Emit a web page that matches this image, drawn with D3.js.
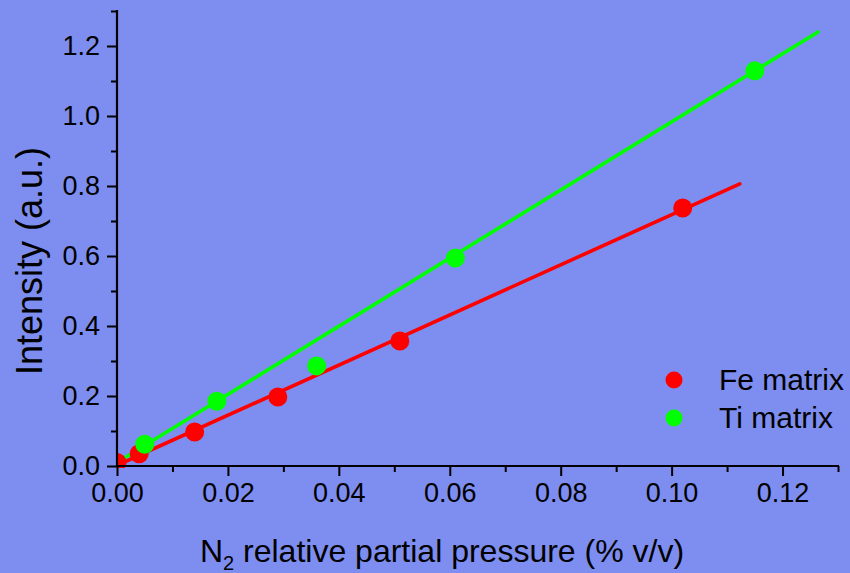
<!DOCTYPE html>
<html><head><meta charset="utf-8">
<script src="https://cdn.jsdelivr.net/npm/d3@7"></script>
<style>
html,body{margin:0;padding:0;background:#7d8ef0;}
svg{display:block;font-family:"Liberation Sans",Arial,sans-serif;}
</style></head>
<body>
<script>
// Data
const feX = [0.0, 0.004, 0.014, 0.029, 0.051, 0.102];
const feY = [0.01, 0.035, 0.097, 0.197, 0.357, 0.737];
const tiX = [0.005, 0.018, 0.036, 0.061, 0.115];
const tiY = [0.062, 0.185, 0.286, 0.594, 1.129];
const feFitX = [0.0, 0.1123];
const feFitY = [0.002, 0.806];
const tiFitX = [0.0, 0.1264];
const tiFitY = [0.01, 1.24];
const xMajorTicks = [0, 0.02, 0.04, 0.06, 0.08, 0.10, 0.12];
const xMinorTicks = [0.01, 0.03, 0.05, 0.07, 0.09, 0.11, 0.13];
const yMajorTicks = [0, 0.2, 0.4, 0.6, 0.8, 1.0, 1.2];
const yMinorTicks = [0.1, 0.3, 0.5, 0.7, 0.9, 1.1, 1.3];
const seriesNames = ["Fe matrix", "Ti matrix"];
const seriesColors = ["#ff0000", "#00ff00"];

const W = 850, H = 573;
const svg = d3.select("body").append("svg").attr("width", W).attr("height", H);
svg.append("rect").attr("width", W).attr("height", H).attr("fill", "#7d8ef0");

const x = d3.scaleLinear().domain([0, 0.13]).range([117, 838]);
const y = d3.scaleLinear().domain([0, 1.3]).range([466, 11]);

svg.append("defs").append("clipPath").attr("id", "clip")
  .append("rect").attr("x", 117).attr("y", 0).attr("width", W - 117).attr("height", 468);

const plot = svg.append("g").attr("clip-path", "url(#clip)");
const line = d3.line().x(d => x(d[0])).y(d => y(d[1]));

const fits = [d3.zip(feFitX, feFitY), d3.zip(tiFitX, tiFitY)];
const pts = [d3.zip(feX, feY), d3.zip(tiX, tiY)];

fits.forEach((f, i) => {
  plot.append("path").datum(f).attr("d", line).attr("fill", "none")
    .attr("stroke", seriesColors[i]).attr("stroke-width", 3.6).attr("stroke-linecap", "round");
});
pts.forEach((p, i) => {
  plot.selectAll(null).data(p).enter().append("circle")
    .attr("cx", d => x(d[0])).attr("cy", d => y(d[1])).attr("r", 9.5)
    .attr("fill", seriesColors[i]);
});

// Axes
const xAxis = svg.append("g").attr("transform", "translate(0,466)")
  .call(d3.axisBottom(x).tickValues(xMajorTicks).tickSize(10).tickSizeOuter(0).tickPadding(7).tickFormat(d3.format(".2f")));
const xMinor = svg.append("g").attr("transform", "translate(0,466)")
  .call(d3.axisBottom(x).tickValues(xMinorTicks).tickSize(6).tickSizeOuter(0).tickFormat(""));
const yAxis = svg.append("g").attr("transform", "translate(117,0)")
  .call(d3.axisLeft(y).tickValues(yMajorTicks).tickSize(10).tickSizeOuter(0).tickPadding(7).tickFormat(d3.format(".1f")));
const yMinor = svg.append("g").attr("transform", "translate(117,0)")
  .call(d3.axisLeft(y).tickValues(yMinorTicks).tickSize(6).tickSizeOuter(0).tickFormat(""));

[xAxis, xMinor, yAxis, yMinor].forEach(g => {
  g.selectAll("path.domain").attr("stroke", "#000").attr("stroke-width", 2.2);
  g.selectAll(".tick line").attr("stroke", "#000").attr("stroke-width", 2);
  g.selectAll("text").attr("fill", "#000").style("font-size", "27px")
    .style("font-family", "Liberation Sans, Arial, sans-serif");
});
xAxis.selectAll("path.domain").attr("d", "M116,0H839");
yAxis.selectAll("path.domain").attr("d", "M0,467V10");
xMinor.selectAll("path.domain").remove();
yMinor.selectAll("path.domain").remove();

// Axis titles
const xt = svg.append("text").attr("x", 442).attr("y", 562).attr("text-anchor", "middle")
  .attr("font-size", 32).attr("fill", "#000");
xt.append("tspan").text("N");
xt.append("tspan").attr("font-size", 20).attr("dy", 8).text("2");
xt.append("tspan").attr("dy", -8).text(" relative partial pressure (% v/v)");

svg.append("text").attr("transform", "translate(42,261) rotate(-90)")
  .attr("text-anchor", "middle").attr("font-size", 36).attr("fill", "#000")
  .text("Intensity (a.u.)");

// Legend
const legY = [380, 418];
seriesNames.forEach((n, i) => {
  svg.append("circle").attr("cx", 674).attr("cy", legY[i]).attr("r", 8.5).attr("fill", seriesColors[i]);
  svg.append("text").attr("x", 719).attr("y", legY[i] + 10).attr("font-size", 30)
    .attr("fill", "#000").text(n);
});
</script>
</body></html>
